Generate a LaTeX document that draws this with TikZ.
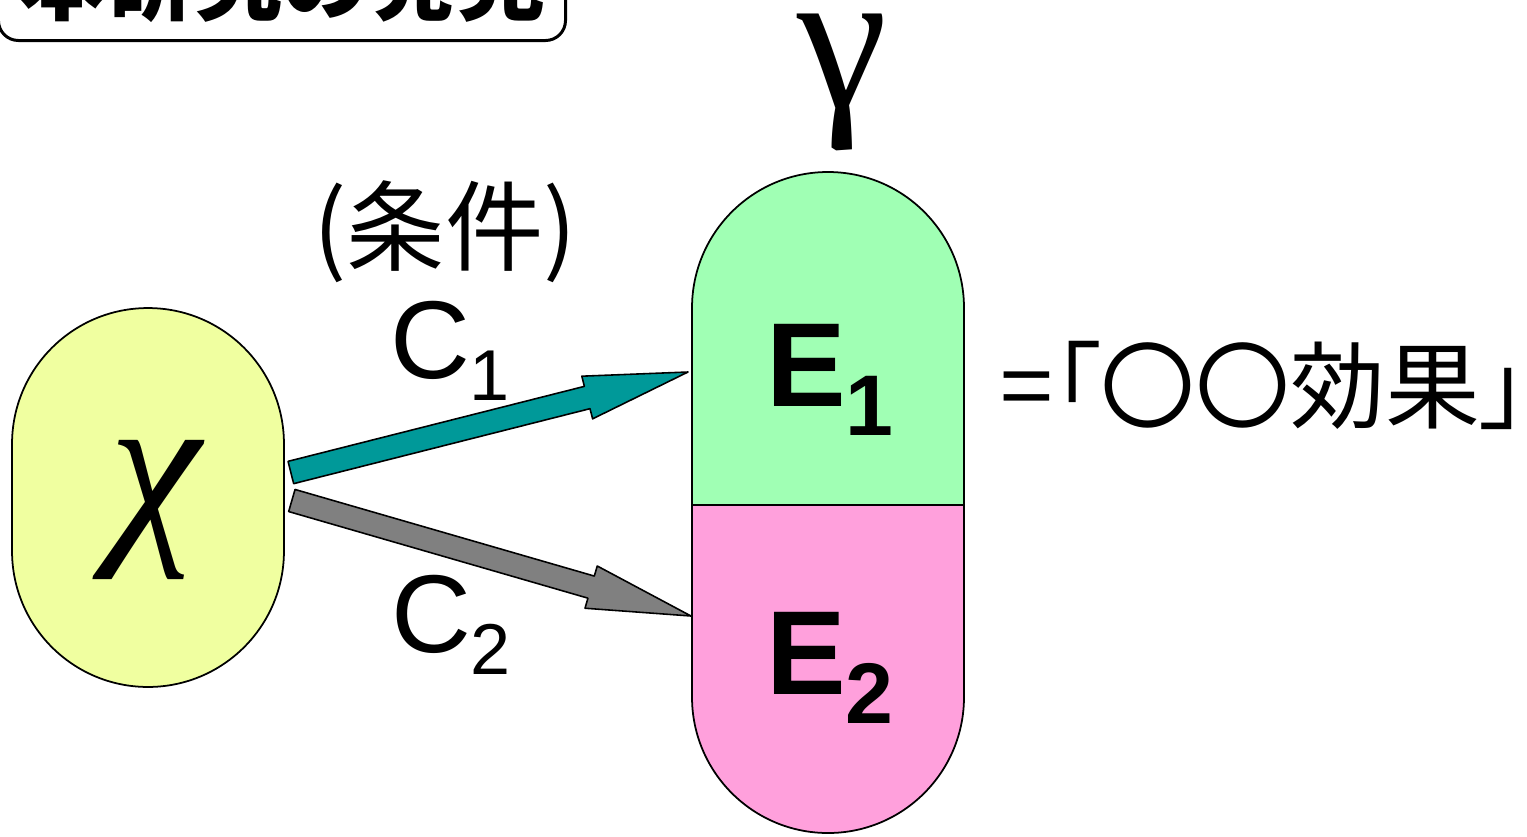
\documentclass[tikz,border=0pt]{standalone}
\usepackage{fontspec}
\setmainfont{Liberation Sans}
\newfontfamily\jpfont{Noto Sans CJK JP}
\newfontfamily\jppfont[RawFeature=+palt]{Noto Sans CJK JP}
\newfontfamily\grfont{Liberation Serif}
\usetikzlibrary{calc}

\definecolor{xyellow}{RGB}{240,255,160}
\definecolor{egreen}{RGB}{160,255,180}
\definecolor{epink}{RGB}{255,160,220}
\definecolor{cteal}{RGB}{0,153,153}
\definecolor{cgray}{RGB}{128,128,128}

% fat arrow with outline, from #1 to #2
\newcommand{\blockarrow}[3]{%
  \coordinate (hb) at ($(#2)!2.08cm!(#1)$);
  \draw[fill=#3, line width=0.9pt]
    ($(#1)!0.23cm!90:(#2)$) -- ($(hb)!0.23cm!90:(#2)$) -- ($(hb)!0.44cm!90:(#2)$)
    -- (#2) -- ($(hb)!0.44cm!-90:(#2)$) -- ($(hb)!0.23cm!-90:(#2)$)
    -- ($(#1)!0.23cm!-90:(#2)$) -- cycle;}

\begin{document}
\begin{tikzpicture}[x=0.02cm, y=0.02cm, line join=round,
  outl/.style={draw, line width=1pt},
  big/.style={font=\fontsize{68}{68}\selectfont\bfseries},
  cond/.style={font=\fontsize{63}{63}\selectfont},
  jp/.style={font=\jpfont\fontsize{56}{56}\selectfont}]
\useasboundingbox (0,0) rectangle (1527,-836);
\clip (0,0) rectangle (1527,-836);

% title box, mostly off the page
\node[draw, line width=1.7pt, rounded corners=0.4cm, anchor=south east,
  inner xsep=0.4cm, inner ysep=0.55cm, text depth=0pt,
  font=\jpfont\bfseries\fontsize{50}{50}\selectfont] (title) at (567,-42) {本研究の発見};

% X
\node[outl, fill=xyellow, minimum width=5.44cm, minimum height=7.58cm,
  rounded corners=2.72cm, inner sep=0pt] (X) at (148,-497.5) {};
\node[font=\grfont\itshape\fontsize{118}{118}\selectfont, inner sep=0pt] (chi) at (155,-510) {χ};

% Y capsule
\draw[line width=1pt, fill=egreen] (692,-505) -- (692,-308) arc (180:0:136) -- (964,-505) -- cycle;
\draw[line width=1pt, fill=epink] (692,-505) -- (692,-697) arc (180:360:136) -- (964,-505) -- cycle;
\node[big, inner sep=0pt] (e1) at (830,-380) {E\raisebox{-0.58cm}{\fontsize{49}{49}\selectfont 1}};
\node[big, inner sep=0pt] (e2) at (830,-668) {E\raisebox{-0.58cm}{\fontsize{49}{49}\selectfont 2}};
\node[font=\grfont\fontsize{116}{116}\selectfont, inner sep=0pt] (gam) at (843,-82) {γ};
\node[font=\jppfont\fontsize{54}{54}\selectfont, anchor=west, inner sep=0pt] (eff) at (1000,-385) {=「〇〇効果」};

% conditions
\node[jp, inner sep=0pt] (cnd) at (445,-232) {(条件)};
\node[cond, inner sep=0pt] (c1) at (450,-351) {C\raisebox{-0.44cm}{\fontsize{41}{41}\selectfont 1}};
\node[cond, inner sep=0pt] (c2) at (451,-625) {C\raisebox{-0.44cm}{\fontsize{41}{41}\selectfont 2}};

% arrows
\coordinate (t1) at ($(X.east)+(6,25)$);
\coordinate (t2) at ($(X.east)+(7,-3)$);
\coordinate (p1) at (688,-372);
\coordinate (p2) at (691,-616);
\blockarrow{t1}{p1}{cteal}
\blockarrow{t2}{p2}{cgray}
\end{tikzpicture}
\end{document}
